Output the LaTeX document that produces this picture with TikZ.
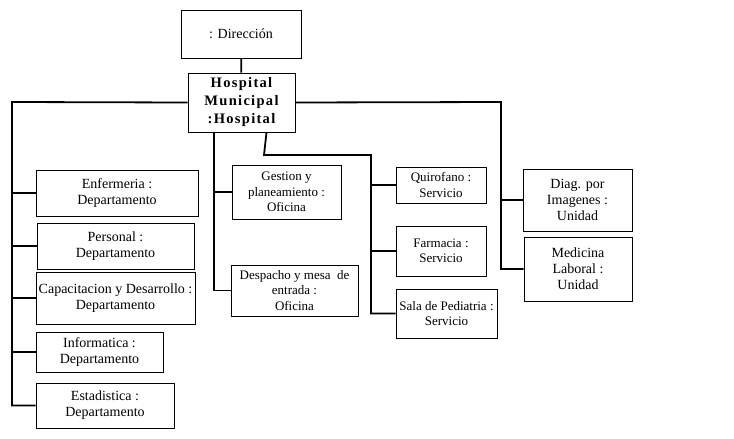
\documentclass[tikz,border=0pt]{standalone}
\usepackage{fontspec}
\setmainfont{Liberation Serif}
\begin{document}
\begin{tikzpicture}[x=1pt,y=-1pt]
    \tikzstyle{unit}=[rectangle,draw,line width=0.9pt,align=center,inner sep=0pt,font=\fontsize{14}{16}\selectfont]
    \tikzstyle{small}=[font=\fontsize{13}{15.5}\selectfont]
    \tikzstyle{link}=[line width=1.8pt]
    \useasboundingbox (0,0) rectangle (734,439);

    \node[unit,minimum width=120,minimum height=48] (dir) at (241,34) {: Direcci\'on};
    \node[unit,minimum width=107,minimum height=59,font=\fontsize{14.5}{18}\selectfont\bfseries\addfontfeature{LetterSpace=9}] (hosp) at (241.5,102.5) {Hospital\\Municipal\\:Hospital};

    % departamentos
    \node[unit,minimum width=162,minimum height=46] (enf) at (117,193) {Enfermeria :\\Departamento};
    \node[unit,minimum width=157,minimum height=46] (pers) at (115.5,246) {Personal :\\Departamento};
    \node[unit,minimum width=159,minimum height=52] (cap) at (115.5,298) {Capacitacion y Desarrollo :\\Departamento};
    \node[unit,minimum width=127,minimum height=40] (info) at (99.5,352) {Informatica :\\Departamento};
    \node[unit,minimum width=138,minimum height=45] (est) at (105,405.5) {Estadistica :\\Departamento};

    % oficinas
    \node[unit,small,minimum width=109,minimum height=54] (gest) at (286.5,192) {Gestion y\\planeamiento :\\Oficina};
    \node[unit,small,minimum width=127,minimum height=51] (desp) at (294.5,290.5) {Despacho y mesa\ \ de\\entrada :\\Oficina};

    % servicios
    \node[unit,small,minimum width=90,minimum height=36] (quir) at (441,185) {Quirofano :\\Servicio};
    \node[unit,small,minimum width=90,minimum height=50] (farm) at (441,251) {Farmacia :\\Servicio};
    \node[unit,small,minimum width=101,minimum height=49] (sala) at (446.5,313.5) {Sala de Pediatria :\\Servicio};

    % unidades
    \node[unit,minimum width=109,minimum height=62] (diag) at (577.5,200) {Diag. por\\Imagenes :\\Unidad};
    \node[unit,minimum width=108,minimum height=64] (med) at (578,269) {Medicina\\Laboral :\\Unidad};

    \coordinate (lt) at (12,102);
    \coordinate (mt) at (214,132);
    \coordinate (sk) at (264,155);
    \coordinate (sv) at (371,155);
    \coordinate (rt) at (501,102);

    \draw[link] (dir) -- (hosp);
    \draw[link] (hosp.west) -- (lt) |- (est.west);
    \foreach \n in {enf,pers,cap,info} {
        \draw[link] (\n.west) -- (\n.west -| lt);
    };
    \draw[link] (mt) |- (desp.west);
    \draw[link] (gest.west) -- (gest.west -| mt);
    \draw[link] ([xshift=25]hosp.south) -- (sk) -- (sv) |- (sala.west);
    \foreach \n in {quir,farm} {
        \draw[link] (\n.west) -- (\n.west -| sv);
    };
    \draw[link] (hosp.east) -- (rt) |- (med.west);
    \draw[link] (diag.west) -- (diag.west -| rt);
\end{tikzpicture}
\end{document}
